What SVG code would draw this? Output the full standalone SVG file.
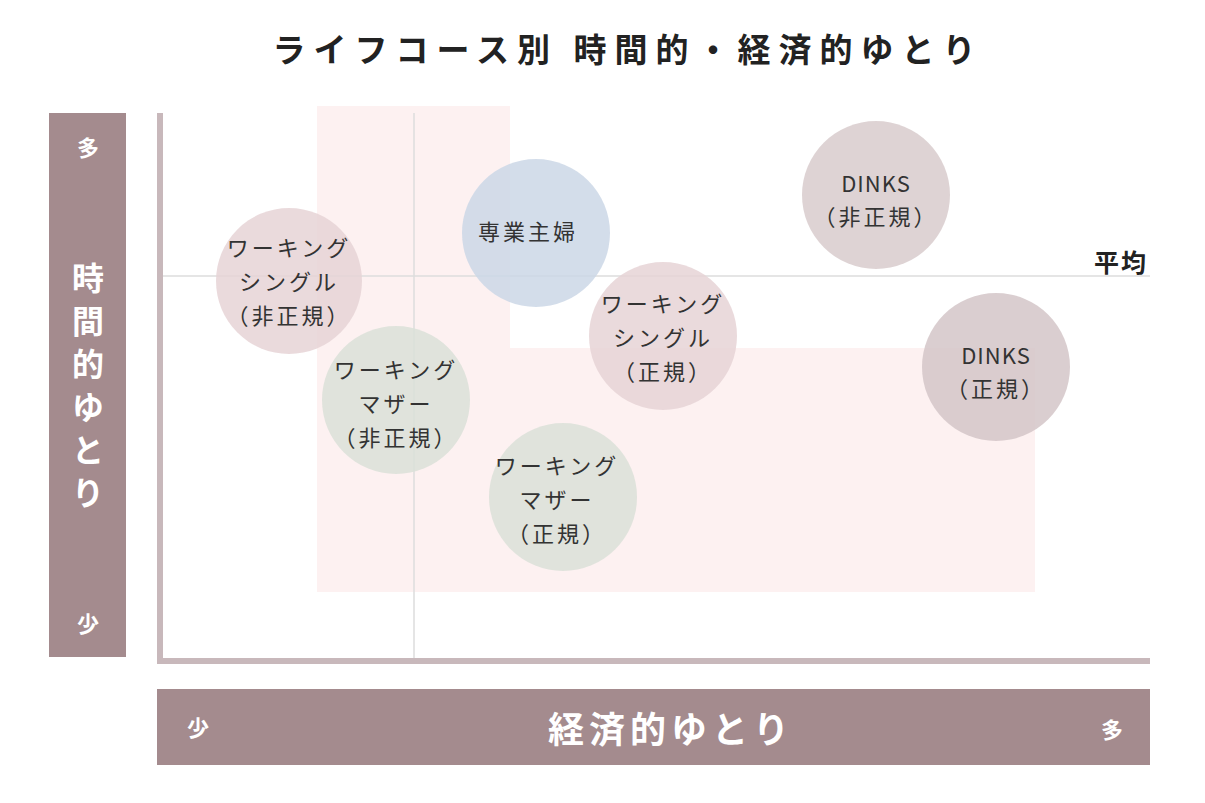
<svg xmlns="http://www.w3.org/2000/svg" width="1205" height="803" viewBox="0 0 1205 803">
<style>
text{font-family:"Noto Sans CJK JP","Noto Sans",sans-serif;fill:#333;text-anchor:middle}
.lb{font-size:22px;letter-spacing:3px}
.w{fill:#fff;font-weight:bold}
.v{font-size:32px}
.c{opacity:0.85}
</style>
<rect width="1205" height="803" fill="#fff"/>
<text x="628" y="62" style="font-size:33px;font-weight:bold;letter-spacing:8px;fill:#222">ライフコース別 時間的・経済的ゆとり</text>
<path d="M317 106H510V348H1035V592H317Z" fill="#fdf1f1"/>
<g id="grid" stroke="#ddd" stroke-width="1.5">
<line x1="414" y1="113" x2="414" y2="660"/>
<line x1="162" y1="276" x2="1150" y2="276"/>
</g>
<g id="axes" fill="#c8b8bb">
<rect x="157" y="113" width="6" height="551"/>
<rect x="157" y="658" width="993" height="6"/>
</g>
<text x="1121" y="272" style="font-size:25px;font-weight:bold;fill:#222;letter-spacing:2px">平均</text>
<g id="yaxis"><rect x="49" y="113" width="77" height="544" fill="#a48b8e"/>
<text class="w" x="88" y="156" style="font-size:22px">多</text>
<text class="w" x="88" y="632" style="font-size:22px">少</text>
<text class="w v" x="88" y="290">時</text>
<text class="w v" x="88" y="333">間</text>
<text class="w v" x="88" y="376">的</text>
<text class="w v" x="88" y="419">ゆ</text>
<text class="w v" x="88" y="462">と</text>
<text class="w v" x="88" y="505">り</text>
</g>
<g id="xaxis"><rect x="157" y="689" width="993" height="76" fill="#a48b8e"/>
<text class="w" x="198" y="736" style="font-size:22px">少</text>
<text class="w" x="1112" y="738" style="font-size:22px">多</text>
<text class="w" x="671" y="743" style="font-size:36px;letter-spacing:5px">経済的ゆとり</text>
</g>
<g id="n1"><circle class="c" cx="289" cy="281" r="73" fill="#e6d3d6"/>
<text class="lb" x="289" y="256">ワーキング</text><text class="lb" x="289" y="290">シングル</text><text class="lb" x="289" y="324">（非正規）</text></g>
<g id="n2"><circle class="c" cx="536" cy="233" r="74" fill="#cbd7e6"/>
<text class="lb" x="528" y="240">専業主婦</text></g>
<g id="n3"><circle class="c" cx="876" cy="195" r="74" fill="#d8cbcd"/>
<text class="lb" x="876" y="192" style="letter-spacing:1px">DINKS</text><text class="lb" x="876" y="225">（非正規）</text></g>
<g id="n4"><circle class="c" cx="663" cy="336" r="74" fill="#e6d3d6"/>
<text class="lb" x="663" y="312">ワーキング</text><text class="lb" x="663" y="346">シングル</text><text class="lb" x="663" y="380">（正規）</text></g>
<g id="n5"><circle class="c" cx="996" cy="367" r="74" fill="#d3c6c8"/>
<text class="lb" x="996" y="364" style="letter-spacing:1px">DINKS</text><text class="lb" x="996" y="397">（正規）</text></g>
<g id="n6"><circle class="c" cx="396" cy="400" r="74" fill="#dbe0d8"/>
<text class="lb" x="396" y="378">ワーキング</text><text class="lb" x="396" y="412">マザー</text><text class="lb" x="396" y="446">（非正規）</text></g>
<g id="n7"><circle class="c" cx="563" cy="497" r="74" fill="#dbe0d8"/>
<text class="lb" x="557" y="474">ワーキング</text><text class="lb" x="557" y="508">マザー</text><text class="lb" x="557" y="542">（正規）</text></g>
</svg>
